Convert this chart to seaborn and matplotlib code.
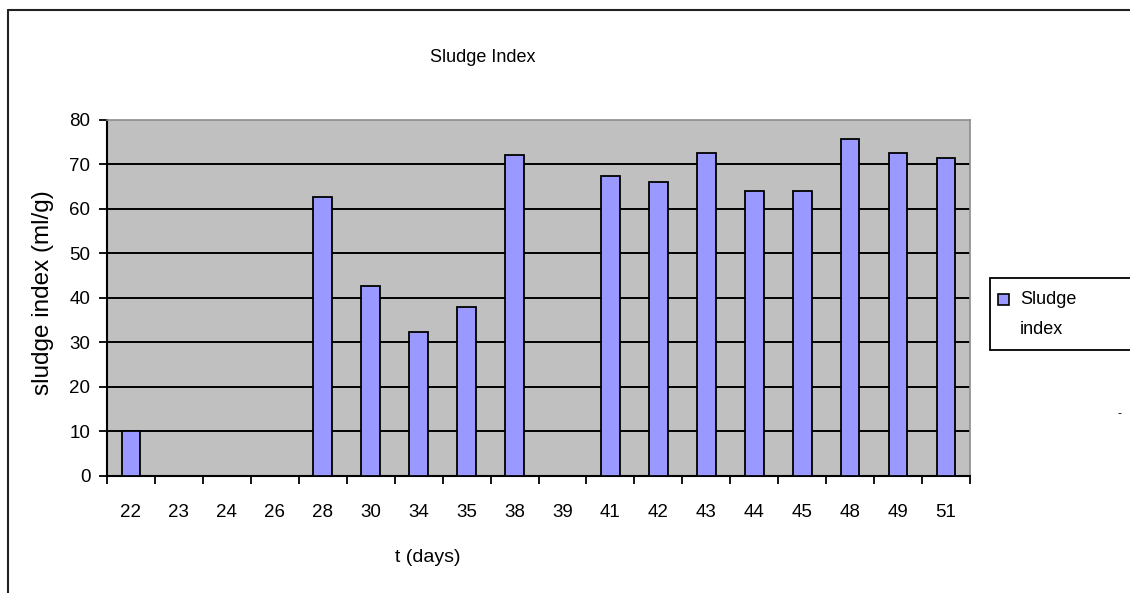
import numpy as np
import pandas as pd
import matplotlib
matplotlib.use("Agg")
import matplotlib.pyplot as plt
import seaborn as sns
from matplotlib.patches import Rectangle
from matplotlib.lines import Line2D

days = ["22", "23", "24", "26", "28", "30", "34", "35", "38", "39",
        "41", "42", "43", "44", "45", "48", "49", "51"]
sludge_index = [10.0, np.nan, np.nan, np.nan, 62.5, 42.7, 32.3, 37.9, 72.0, np.nan,
                67.3, 65.9, 72.5, 64.0, 64.0, 75.7, 72.5, 71.4]
y_ticks = [0, 10, 20, 30, 40, 50, 60, 70, 80]

sns.set_theme(style="white")
plt.rcParams["font.family"] = ["Liberation Sans", "DejaVu Sans"]
plt.rcParams["text.color"] = "black"
plt.rcParams["xtick.color"] = "black"
plt.rcParams["ytick.color"] = "black"
plt.rcParams["xtick.labelcolor"] = "black"
plt.rcParams["ytick.labelcolor"] = "black"

df = pd.DataFrame({"t": days, "v": sludge_index})

W, H = 1130, 593
fig = plt.figure(figsize=(W / 100, H / 100), dpi=100)
ax = fig.add_axes([107 / W, 1 - 476 / H, (970 - 107) / W, (476 - 119.5) / H])
ax.set_facecolor("#C0C0C0")

sns.barplot(data=df, x="t", y="v", order=days, color="#9999FF", saturation=1,
            width=0.39, edgecolor="black", linewidth=1.3, ax=ax, zorder=3)

ax.set_ylim(0, 80)
ax.set_xlim(-0.5, len(days) - 0.5)
ax.set_yticks(y_ticks)
ax.set_yticklabels([str(t) for t in y_ticks], fontsize=13.5, color="black")
for t in y_ticks[1:-1]:
    ax.axhline(t, color="black", lw=1.4, zorder=2)

ax.set_xticks(np.arange(-0.5, len(days), 1))
ax.set_xticklabels([])
ax.set_xticks(np.arange(len(days)), minor=True)
ax.set_xticklabels(days, minor=True, fontsize=13.5, color="black")
ax.tick_params(axis="x", which="major", direction="out", length=6, width=1.3, color="black", bottom=True)
ax.tick_params(axis="x", which="minor", length=0, pad=20)
ax.tick_params(axis="y", direction="out", length=6, width=1.3, color="black", left=True, pad=6)

for s in ["left", "bottom"]:
    ax.spines[s].set_color("black")
    ax.spines[s].set_linewidth(1.5)
for s in ["top", "right"]:
    ax.spines[s].set_color("#8C8C8C")
    ax.spines[s].set_linewidth(1.2)

ax.set_xlabel("")
ax.set_ylabel("")
fig.text(483 / W, 1 - 57 / H, "Sludge Index", ha="center", va="center", fontsize=13, color="black")
fig.text(43 / W, 1 - 293 / H, "sludge index (ml/g)", ha="center", va="center",
         rotation=90, fontsize=17.5, color="black")
fig.text(428 / W, 1 - 558 / H, "t (days)", ha="center", va="center", fontsize=14, color="black")

# outer chart border
fig.add_artist(Line2D([8 / W, 8 / W], [0, 1 - 10 / H], transform=fig.transFigure, color="#222222", lw=1.5))
fig.add_artist(Line2D([8 / W, 1], [1 - 10 / H, 1 - 10 / H], transform=fig.transFigure, color="#222222", lw=1.5))

# legend box
fig.add_artist(Rectangle((990 / W, 1 - 350 / H), 200 / W, 72 / H, transform=fig.transFigure,
                         facecolor="white", edgecolor="black", lw=1.3))
fig.add_artist(Rectangle((998 / W, 1 - 305 / H), 11 / W, 11 / H, transform=fig.transFigure,
                         facecolor="#9999FF", edgecolor="black", lw=1.2))
fig.text(1020 / W, 1 - 300 / H, "Sludge", ha="left", va="center", fontsize=13, color="black")
fig.text(1020 / W, 1 - 329 / H, "index", ha="left", va="center", fontsize=13, color="black")
fig.text(1119 / W, 1 - 414 / H, "-", ha="center", va="center", fontsize=9, color="black")

fig.savefig("out.png", dpi=100)
